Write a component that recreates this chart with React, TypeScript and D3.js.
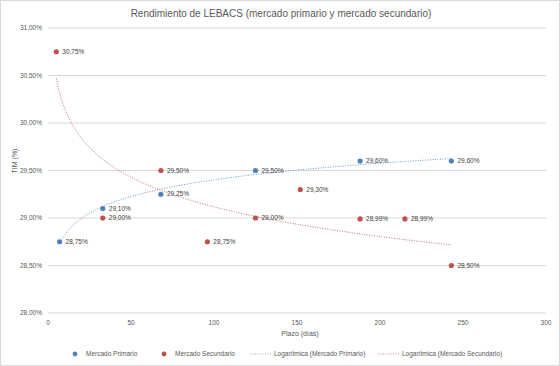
import * as d3 from "d3";

const W = 560;
const H = 366;
const MARGIN = { top: 28, right: 14, bottom: 53, left: 48 };

// Mercado Primario
const primDays = [7, 33, 68, 125, 188, 243];
const primRates = [28.75, 29.1, 29.25, 29.5, 29.6, 29.6];
const primLabels = ["28,75%", "29,10%", "29,25%", "29,50%", "29,60%", "29,60%"];

// Mercado Secundario
const secDays = [5, 33, 68, 96, 125, 152, 188, 215, 243];
const secRates = [30.75, 29.0, 29.5, 28.75, 29.0, 29.3, 28.99, 28.99, 28.5];
const secLabels = ["30,75%", "29,00%", "29,50%", "28,75%", "29,00%", "29,30%", "28,99%", "28,99%", "28,50%"];

const xTicks = [0, 50, 100, 150, 200, 250, 300];
const yTicks = [28, 28.5, 29, 29.5, 30, 30.5, 31];

const BLUE = "#4f81bd";
const RED = "#c0504d";
const TEXT = "#595959";
const FONT = "Liberation Sans, Arial, sans-serif";

// least squares fit of y = a*ln(x) + b, like the spreadsheet log trendline
function logFit(xs: number[], ys: number[]) {
  const lx = xs.map((x) => Math.log(x));
  const mx = d3.mean(lx) || 0;
  const my = d3.mean(ys) || 0;
  const a =
    d3.sum(lx, (v, i) => (v - mx) * (ys[i] - my)) / d3.sum(lx, (v) => (v - mx) ** 2);
  const b = my - a * mx;
  return (x: number) => a * Math.log(x) + b;
}

export default function App() {
  const bw = W - MARGIN.left - MARGIN.right;
  const bh = H - MARGIN.top - MARGIN.bottom;
  const x = d3.scaleLinear().domain([0, 300]).range([0, bw]);
  const y = d3.scaleLinear().domain([28, 31]).range([bh, 0]);

  const trend = (xs: number[], ys: number[]) => {
    const f = logFit(xs, ys);
    const [lo, hi] = d3.extent(xs) as [number, number];
    const pts = d3.range(0, 121).map((i) => lo + ((hi - lo) * i) / 120);
    return d3
      .line<number>()
      .x((d) => x(d))
      .y((d) => y(f(d)))(pts) || "";
  };

  const fmtY = (v: number) => v.toFixed(2).replace(".", ",") + "%";

  const legend = [
    { type: "dot", color: BLUE, label: "Mercado Primario", x: 75 },
    { type: "dot", color: RED, label: "Mercado Secundario", x: 164 },
    { type: "line", color: BLUE, label: "Logarítmica (Mercado Primario)", x: 251 },
    { type: "line", color: RED, label: "Logarítmica (Mercado Secundario)", x: 379 },
  ];

  return (
    <div style={{ position: "fixed", left: 0, top: 0 }}>
      <svg width={W} height={H} fontFamily={FONT}>
        <rect x={0.5} y={0.5} width={W - 1} height={H - 1} fill="#fff" stroke="#d9d9d9" />
        <text x={281} y={17} textAnchor="middle" fontSize={10} fill={TEXT}>
          Rendimiento de LEBACS (mercado primario y mercado secundario)
        </text>
        <g transform={`translate(${MARGIN.left},${MARGIN.top})`}>
          {yTicks.map((t) => (
            <g key={t}>
              <line x1={0} x2={bw} y1={y(t)} y2={y(t)} stroke="#d9d9d9" strokeWidth={1} />
              <text x={-6} y={y(t)} dy="0.32em" textAnchor="end" fontSize={6.5} fill={TEXT}>
                {fmtY(t)}
              </text>
            </g>
          ))}
          {xTicks.map((t) => (
            <text key={t} x={x(t)} y={bh + 12} textAnchor="middle" fontSize={6.5} fill={TEXT}>
              {t}
            </text>
          ))}
          <path d={trend(primDays, primRates)} fill="none" stroke={BLUE} strokeWidth={1} strokeDasharray="1,1.5" opacity={0.85} />
          <path d={trend(secDays, secRates)} fill="none" stroke={RED} strokeWidth={1} strokeDasharray="1,1.5" opacity={0.85} />
          {primDays.map((d, i) => (
            <g key={"p" + i}>
              <circle cx={x(d)} cy={y(primRates[i])} r={2.6} fill={BLUE} />
              <text x={x(d) + 6} y={y(primRates[i])} dy="0.32em" fontSize={6.5} fill="#404040">
                {primLabels[i]}
              </text>
            </g>
          ))}
          {secDays.map((d, i) => (
            <g key={"s" + i}>
              <circle cx={x(d)} cy={y(secRates[i])} r={2.6} fill={RED} />
              <text x={x(d) + 6} y={y(secRates[i])} dy="0.32em" fontSize={6.5} fill="#404040">
                {secLabels[i]}
              </text>
            </g>
          ))}
        </g>
        <text x={300} y={336} textAnchor="middle" fontSize={7} fill={TEXT}>
          Plazo (días)
        </text>
        <text transform={`translate(17,${MARGIN.top + y(29.6)}) rotate(-90)`} textAnchor="middle" fontSize={7} fill={TEXT}>
          TIM (%)
        </text>
        {legend.map((l) => (
          <g key={l.label} transform={`translate(${l.x},354)`}>
            {l.type === "dot" ? (
              <circle cx={0} cy={0} r={2.4} fill={l.color} />
            ) : (
              <line x1={-1} x2={20} y1={0} y2={0} stroke={l.color} strokeWidth={1} strokeDasharray="1,1.5" opacity={0.6} />
            )}
            <text x={l.type === "dot" ? 11 : 23} y={0} dy="0.32em" fontSize={6.5} fill={TEXT}>
              {l.label}
            </text>
          </g>
        ))}
      </svg>
    </div>
  );
}
